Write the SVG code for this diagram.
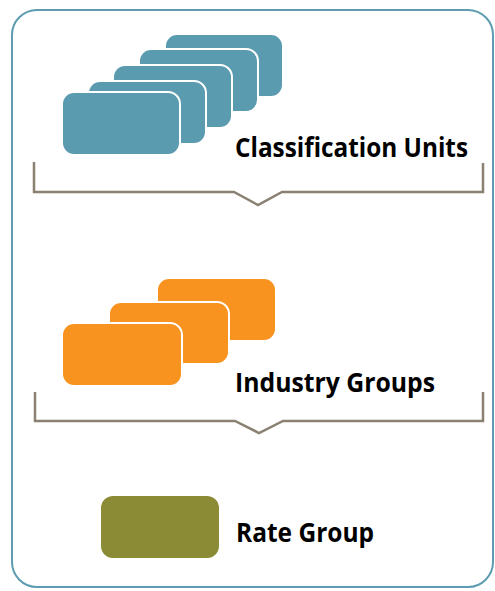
<svg xmlns="http://www.w3.org/2000/svg" width="495" height="591" viewBox="0 0 495 591">
<style>
.frame{fill:#fff;stroke:#5d9cb1;stroke-width:2}
.cu{fill:#5b9bb0;stroke:#fff;stroke-width:2}
.ig{fill:#f7931e;stroke:#fff;stroke-width:2}
.rg{fill:#8b8a35}
.br{fill:none;stroke:#8a8172;stroke-width:2.5}
.lbl{font-family:"Open Sans","Liberation Sans",sans-serif;font-weight:bold;font-size:26px;fill:#000}
</style>
<rect class="frame" x="12" y="10" width="481" height="577" rx="25"/>
<g id="classification-units">
<rect class="cu" x="165" y="34" width="118" height="63" rx="12"/>
<rect class="cu" x="139" y="49" width="119" height="63" rx="12"/>
<rect class="cu" x="113" y="65" width="119" height="63" rx="12"/>
<rect class="cu" x="88" y="81" width="118" height="63" rx="12"/>
<rect class="cu" x="62" y="92" width="118" height="63" rx="12"/>
<text class="lbl" x="235" y="157" textLength="233" lengthAdjust="spacingAndGlyphs">Classification Units</text>
</g>
<g id="industry-groups">
<rect class="ig" x="157" y="278" width="119" height="63" rx="12"/>
<rect class="ig" x="109" y="302" width="120" height="62" rx="12"/>
<rect class="ig" x="62" y="323" width="120" height="63" rx="12"/>
<text class="lbl" x="235" y="392" style="font-size:27px" textLength="200" lengthAdjust="spacingAndGlyphs">Industry Groups</text>
</g>
<g id="rate-group">
<rect class="rg" x="101" y="496" width="118" height="62" rx="12"/>
<text class="lbl" x="236" y="542" style="font-size:27px" textLength="138" lengthAdjust="spacingAndGlyphs">Rate Group</text>
</g>
<g id="connectors">
<polyline class="br" points="34,162 34,192 234,192 258,205 282,192 483,192 483,163"/>
<polyline class="br" points="35,392 35,421 235,421 259,433 283,421 483,421 483,392"/>
</g>
</svg>
